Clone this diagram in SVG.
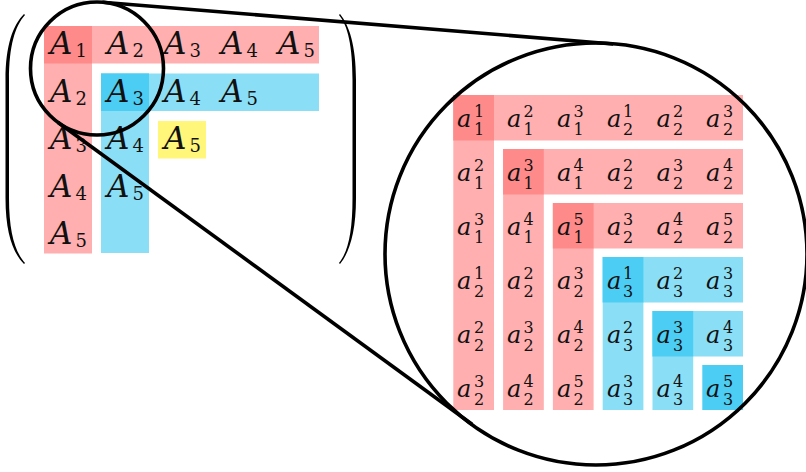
<svg xmlns="http://www.w3.org/2000/svg" width="806" height="472" viewBox="0 0 806 472">
<style>
.lr{fill:#ffafaf}
.dr{fill:#ff8a8a}
.lb{fill:#8adff6}
.db{fill:#4ccdf3}
.ye{fill:#fff67a}
text{font-family:'DejaVu Serif','Liberation Serif',serif}
.A{font-style:italic;font-size:31px;fill:#111}
.As{font-style:normal;font-size:18px}
.a{font-style:italic;font-size:24px;fill:#111}
.s{font-style:normal;font-size:16px}
.ln{fill:none;stroke:#000;stroke-width:3.6}
.par{fill:#000}
</style>
<rect width="806" height="472" fill="#fff"/>

<g id="left-matrix">
  <g id="parens">
    <path class="par" d="M24,14 C13,25 5.5,45 5.5,80 L5.5,198 C5.5,233 13,253 24,264 L25,263 C15,252 9,232 9,198 L9,80 C9,46 15,26 25,15 Z"/>
    <path class="par" d="M340,14 C349,25 356,45 356,80 L356,198 C356,233 349,253 340,264 L339,263 C348,252 352.5,232 352.5,198 L352.5,80 C352.5,46 348,26 339,15 Z"/>
  </g>
  <g id="red-band">
    <rect class="lr" x="44" y="26" width="275" height="37.5"/>
    <rect class="lr" x="44" y="26" width="48" height="227.5"/>
    <rect class="dr" x="44" y="26" width="48" height="37.5"/>
  </g>
  <g id="blue-band">
    <rect class="lb" x="101" y="73.5" width="218" height="37.5"/>
    <rect class="lb" x="101" y="73.5" width="48" height="179.5"/>
    <rect class="db" x="101" y="73.5" width="48" height="37.5"/>
  </g>
  <g id="yellow-cell">
    <rect class="ye" x="158" y="121" width="48" height="37.5"/>
  </g>
  <g id="left-labels">
    <text class="A" x="50" y="54">A<tspan class="As" x="75.5" y="57">1</tspan></text>
    <text class="A" x="107" y="54">A<tspan class="As" x="132.5" y="57">2</tspan></text>
    <text class="A" x="164" y="54">A<tspan class="As" x="189.5" y="57">3</tspan></text>
    <text class="A" x="221" y="54">A<tspan class="As" x="246.5" y="57">4</tspan></text>
    <text class="A" x="278" y="54">A<tspan class="As" x="303.5" y="57">5</tspan></text>
    <text class="A" x="50" y="101.5">A<tspan class="As" x="75.5" y="104.5">2</tspan></text>
    <text class="A" x="50" y="149">A<tspan class="As" x="75.5" y="152">3</tspan></text>
    <text class="A" x="50" y="196.5">A<tspan class="As" x="75.5" y="199.5">4</tspan></text>
    <text class="A" x="50" y="244">A<tspan class="As" x="75.5" y="247">5</tspan></text>
    <text class="A" x="107" y="101.5">A<tspan class="As" x="132.5" y="104.5">3</tspan></text>
    <text class="A" x="164" y="101.5">A<tspan class="As" x="189.5" y="104.5">4</tspan></text>
    <text class="A" x="221" y="101.5">A<tspan class="As" x="246.5" y="104.5">5</tspan></text>
    <text class="A" x="107" y="149">A<tspan class="As" x="132.5" y="152">4</tspan></text>
    <text class="A" x="107" y="196.5">A<tspan class="As" x="132.5" y="199.5">5</tspan></text>
    <text class="A" x="164" y="149">A<tspan class="As" x="189.5" y="152">5</tspan></text>
  </g>
</g>

<g id="big-matrix">
  <g id="block1">
    <rect class="lr" x="453.3" y="95" width="289.7" height="45.5"/>
    <rect class="lr" x="453.3" y="95" width="40.7" height="315"/>
    <rect class="dr" x="453.3" y="95" width="40.7" height="45.5"/>
  </g>
  <g id="block2">
    <rect class="lr" x="503.1" y="149" width="239.9" height="45.5"/>
    <rect class="lr" x="503.1" y="149" width="40.7" height="261"/>
    <rect class="dr" x="503.1" y="149" width="40.7" height="45.5"/>
  </g>
  <g id="block3">
    <rect class="lr" x="552.9" y="203" width="190.1" height="45.5"/>
    <rect class="lr" x="552.9" y="203" width="40.7" height="207"/>
    <rect class="dr" x="552.9" y="203" width="40.7" height="45.5"/>
  </g>
  <g id="block4">
    <rect class="lb" x="602.7" y="257" width="140.3" height="45.5"/>
    <rect class="lb" x="602.7" y="257" width="40.7" height="153"/>
    <rect class="db" x="602.7" y="257" width="40.7" height="45.5"/>
  </g>
  <g id="block5">
    <rect class="lb" x="652.5" y="311" width="90.5" height="45.5"/>
    <rect class="lb" x="652.5" y="311" width="40.7" height="99"/>
    <rect class="db" x="652.5" y="311" width="40.7" height="45.5"/>
  </g>
  <g id="block6">
    <rect class="db" x="702.3" y="365" width="40.7" height="45"/>
  </g>
  <g id="big-labels">
    <text class="a" x="457" y="127.3">a<tspan class="s" x="474" y="116.7">1</tspan><tspan class="s" x="474" y="135">1</tspan></text>
    <text class="a" x="507" y="127.3">a<tspan class="s" x="523.5" y="116.7">2</tspan><tspan class="s" x="523.5" y="135">1</tspan></text>
    <text class="a" x="557" y="127.3">a<tspan class="s" x="573.5" y="116.7">3</tspan><tspan class="s" x="573.5" y="135">1</tspan></text>
    <text class="a" x="607" y="127.3">a<tspan class="s" x="623" y="116.7">1</tspan><tspan class="s" x="623" y="135">2</tspan></text>
    <text class="a" x="656.5" y="127.3">a<tspan class="s" x="673" y="116.7">2</tspan><tspan class="s" x="673" y="135">2</tspan></text>
    <text class="a" x="706" y="127.3">a<tspan class="s" x="723" y="116.7">3</tspan><tspan class="s" x="723" y="135">2</tspan></text>
    <text class="a" x="457" y="181.3">a<tspan class="s" x="474" y="170.7">2</tspan><tspan class="s" x="474" y="189">1</tspan></text>
    <text class="a" x="457" y="235.3">a<tspan class="s" x="474" y="224.7">3</tspan><tspan class="s" x="474" y="243">1</tspan></text>
    <text class="a" x="457" y="289.3">a<tspan class="s" x="474" y="278.7">1</tspan><tspan class="s" x="474" y="297">2</tspan></text>
    <text class="a" x="457" y="343.3">a<tspan class="s" x="474" y="332.7">2</tspan><tspan class="s" x="474" y="351">2</tspan></text>
    <text class="a" x="457" y="397.3">a<tspan class="s" x="474" y="386.7">3</tspan><tspan class="s" x="474" y="405">2</tspan></text>
    <text class="a" x="507" y="181.3">a<tspan class="s" x="523.5" y="170.7">3</tspan><tspan class="s" x="523.5" y="189">1</tspan></text>
    <text class="a" x="557" y="181.3">a<tspan class="s" x="573.5" y="170.7">4</tspan><tspan class="s" x="573.5" y="189">1</tspan></text>
    <text class="a" x="607" y="181.3">a<tspan class="s" x="623" y="170.7">2</tspan><tspan class="s" x="623" y="189">2</tspan></text>
    <text class="a" x="656.5" y="181.3">a<tspan class="s" x="673" y="170.7">3</tspan><tspan class="s" x="673" y="189">2</tspan></text>
    <text class="a" x="706" y="181.3">a<tspan class="s" x="723" y="170.7">4</tspan><tspan class="s" x="723" y="189">2</tspan></text>
    <text class="a" x="507" y="235.3">a<tspan class="s" x="523.5" y="224.7">4</tspan><tspan class="s" x="523.5" y="243">1</tspan></text>
    <text class="a" x="507" y="289.3">a<tspan class="s" x="523.5" y="278.7">2</tspan><tspan class="s" x="523.5" y="297">2</tspan></text>
    <text class="a" x="507" y="343.3">a<tspan class="s" x="523.5" y="332.7">3</tspan><tspan class="s" x="523.5" y="351">2</tspan></text>
    <text class="a" x="507" y="397.3">a<tspan class="s" x="523.5" y="386.7">4</tspan><tspan class="s" x="523.5" y="405">2</tspan></text>
    <text class="a" x="557" y="235.3">a<tspan class="s" x="573.5" y="224.7">5</tspan><tspan class="s" x="573.5" y="243">1</tspan></text>
    <text class="a" x="607" y="235.3">a<tspan class="s" x="623" y="224.7">3</tspan><tspan class="s" x="623" y="243">2</tspan></text>
    <text class="a" x="656.5" y="235.3">a<tspan class="s" x="673" y="224.7">4</tspan><tspan class="s" x="673" y="243">2</tspan></text>
    <text class="a" x="706" y="235.3">a<tspan class="s" x="723" y="224.7">5</tspan><tspan class="s" x="723" y="243">2</tspan></text>
    <text class="a" x="557" y="289.3">a<tspan class="s" x="573.5" y="278.7">3</tspan><tspan class="s" x="573.5" y="297">2</tspan></text>
    <text class="a" x="557" y="343.3">a<tspan class="s" x="573.5" y="332.7">4</tspan><tspan class="s" x="573.5" y="351">2</tspan></text>
    <text class="a" x="557" y="397.3">a<tspan class="s" x="573.5" y="386.7">5</tspan><tspan class="s" x="573.5" y="405">2</tspan></text>
    <text class="a" x="607" y="289.3">a<tspan class="s" x="623" y="278.7">1</tspan><tspan class="s" x="623" y="297">3</tspan></text>
    <text class="a" x="656.5" y="289.3">a<tspan class="s" x="673" y="278.7">2</tspan><tspan class="s" x="673" y="297">3</tspan></text>
    <text class="a" x="706" y="289.3">a<tspan class="s" x="723" y="278.7">3</tspan><tspan class="s" x="723" y="297">3</tspan></text>
    <text class="a" x="607" y="343.3">a<tspan class="s" x="623" y="332.7">2</tspan><tspan class="s" x="623" y="351">3</tspan></text>
    <text class="a" x="607" y="397.3">a<tspan class="s" x="623" y="386.7">3</tspan><tspan class="s" x="623" y="405">3</tspan></text>
    <text class="a" x="656.5" y="343.3">a<tspan class="s" x="673" y="332.7">3</tspan><tspan class="s" x="673" y="351">3</tspan></text>
    <text class="a" x="706" y="343.3">a<tspan class="s" x="723" y="332.7">4</tspan><tspan class="s" x="723" y="351">3</tspan></text>
    <text class="a" x="656.5" y="397.3">a<tspan class="s" x="673" y="386.7">4</tspan><tspan class="s" x="673" y="405">3</tspan></text>
    <text class="a" x="706" y="397.3">a<tspan class="s" x="723" y="386.7">5</tspan><tspan class="s" x="723" y="405">3</tspan></text>
  </g>
</g>

<g id="spy-small">
  <circle class="ln" cx="97" cy="68.5" r="66.5"/>
</g>
<g id="spy-big">
  <circle class="ln" cx="596" cy="254" r="211"/>
</g>
<g id="connectors">
  <line class="ln" x1="102.4" y1="2.2" x2="613.2" y2="44"/>
  <line class="ln" x1="57.8" y1="122.2" x2="472" y2="424.2"/>
</g>
</svg>
